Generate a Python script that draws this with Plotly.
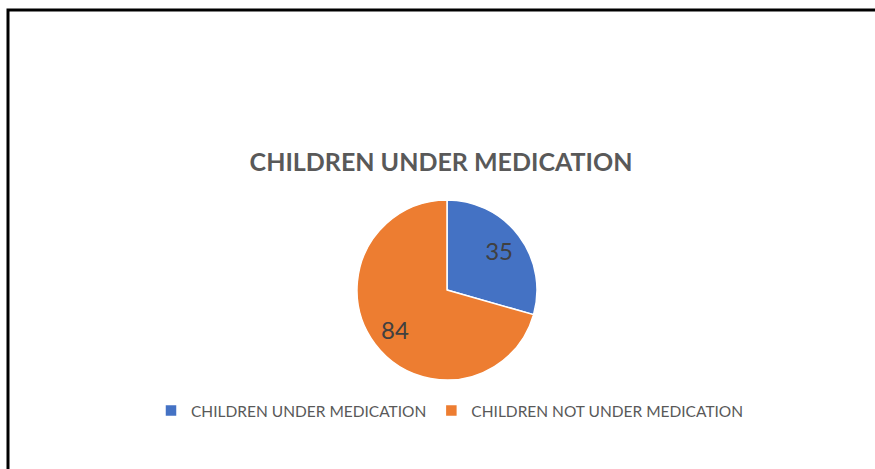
import plotly.graph_objects as go

categories = ["CHILDREN UNDER MEDICATION", "CHILDREN NOT UNDER MEDICATION"]
values = [35, 84]
colors = ["#4472C4", "#ED7D31"]
title_text = "CHILDREN UNDER MEDICATION"

W, H = 875, 469
cx, cy, r = 447, 290, 90
dom = dict(x=[(cx - r) / W, (cx + r) / W], y=[1 - (cy + r) / H, 1 - (cy - r) / H])

fig = go.Figure()
# full pie (shapes + legend)
fig.add_trace(go.Pie(
    labels=categories,
    values=values,
    sort=False,
    direction="clockwise",
    rotation=0,
    textinfo="none",
    marker=dict(colors=colors, line=dict(color="white", width=1.5)),
    domain=dom,
    hoverinfo="label+value",
))
# transparent ring carrying the value labels further out, like the reference
fig.add_trace(go.Pie(
    labels=categories,
    values=values,
    sort=False,
    direction="clockwise",
    rotation=0,
    hole=0.45,
    textinfo="value",
    textposition="inside",
    insidetextorientation="horizontal",
    textfont=dict(family="Lato", size=24, color="#404040"),
    marker=dict(colors=["rgba(0,0,0,0)"] * len(values), line=dict(width=0)),
    domain=dom,
    showlegend=False,
    hoverinfo="skip",
))

fig.update_layout(
    width=W, height=H,
    margin=dict(l=0, r=0, t=0, b=0),
    paper_bgcolor="white",
    plot_bgcolor="white",
    title=dict(text="<b>" + title_text + "</b>", x=441 / W, xanchor="center",
               y=1 - 162 / H, yanchor="middle",
               font=dict(family="Lato", size=25, color="#595959")),
    showlegend=True,
    legend=dict(orientation="h", x=450 / W, xanchor="center", y=1 - 411 / H, yanchor="middle",
                font=dict(family="Lato", size=15.5, color="#595959"),
                bgcolor="rgba(0,0,0,0)"),
    shapes=[dict(type="rect", xref="paper", yref="paper",
                 x0=8 / W, x1=1.05, y0=-0.05, y1=1 - 10 / H,
                 line=dict(color="black", width=3), fillcolor="rgba(0,0,0,0)")],
)

fig.write_html("out.html")
